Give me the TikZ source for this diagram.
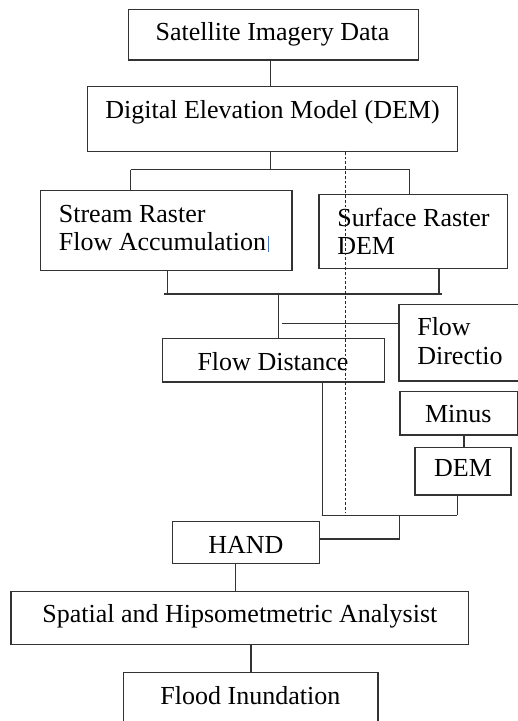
\documentclass[tikz,border=0pt]{standalone}
\usepackage{fontspec}
\setmainfont{Liberation Serif}
\begin{document}
\begin{tikzpicture}[x=0.5pt,y=-0.5pt,line width=0.6pt,
  bx/.style 2 args={draw=black!80,inner sep=0pt,minimum width={#1*0.5pt},minimum height={#2*0.5pt}},
  txt/.style={inner sep=0pt,font=\fontsize{13}{15.6}\selectfont},
  ln/.style={draw=black!80},
  dsh/.style={draw=black!85,dash pattern=on 1.4pt off 1pt}]
\useasboundingbox (0,0) rectangle (518,721);
\clip (0,0) rectangle (518,721);
% boxes
\node[bx={289.6}{50.7}] (sat) at (273.5,34.7) {};
\node[bx={370.4}{64.6}] (dem) at (272.5,119) {};
\node[bx={251.3}{79.6}] (stream) at (166.35,230.5) {};
\node[bx={188.3}{74}] (surf) at (413.15,231.3) {};
\node[bx={221.6}{43.7}] (fdist) at (273.5,360.15) {};
\node[bx={160}{76.7}] (fdir) at (479,342.65) {};
\node[bx={117.7}{43.3}] (minus) at (458.85,413.35) {};
\node[bx={96}{47.7}] (dem2) at (463,471.15) {};
\node[bx={146.8}{41.6}] (hand) at (245.9,542.5) {};
\node[bx={457.7}{52.6}] (spat) at (239.85,618) {};
\node[bx={254.3}{90}] (flood) at (250.85,717.3) {};
% texts
\node[txt,anchor=base] (tsat) at (272.5,41) {Satellite Imagery Data};
\node[txt,anchor=base] (tdem) at (272.5,118.3) {Digital Elevation Model (DEM)};
\node[txt,anchor=base west] (tst1) at (58.3,222.3) {Stream Raster};
\node[txt,anchor=base west] (tst2) at (58.3,250) {Flow Accumulation};
\node[txt,anchor=base west] (tsu1) at (336.7,226.7) {Surface Raster};
\node[txt,anchor=base west] (tsu2) at (336.7,254.3) {DEM};
\node[txt,anchor=base] (tfd) at (273,370) {Flow Distance};
\node[txt,anchor=base west] (tfr1) at (416.7,335) {Flow};
\node[txt,anchor=base west] (tfr2) at (416.7,364) {Directio};
\node[txt,anchor=base] (tmin) at (458.3,422.3) {Minus};
\node[txt,anchor=base] (tdem2) at (463,476.7) {DEM};
\node[txt,anchor=base] (thand) at (245.9,553) {HAND};
\node[txt,anchor=base] (tspat) at (239.85,622.7) {Spatial and Hipsometmetric Analysist};
\node[txt,anchor=base] (tflood) at (250.4,704) {Flood Inundation};
% text cursor
\draw[draw={rgb,255:red,68;green,114;blue,196},line width=0.6pt] (tst2.base east) ++(1.5,-14) -- ++(0,16);
% coordinates
\coordinate (xa) at (270.7,0);
\coordinate (j1) at (270.7,169.7);
\coordinate (jl) at (130.7,169.7);
\coordinate (jr) at (409.7,169.7);
\coordinate (k1) at (164,294);
\coordinate (k2) at (441.7,294);
\coordinate (ks) at (167.7,294);
\coordinate (kf) at (439,294);
\coordinate (kc) at (278.3,294);
\coordinate (fd) at (281.7,323.3);
\coordinate (m1) at (322.7,515.3);
\coordinate (m1b) at (321.7,515.3);
\coordinate (m2) at (457.3,515.3);
\coordinate (m3) at (399.3,515.3);
\coordinate (m4) at (399.3,539);
\coordinate (mx) at (464,0);
\coordinate (hx) at (235.3,0);
\coordinate (sx) at (251,0);
\coordinate (dx) at (345.5,0);
\coordinate (dend) at (345.5,513.3);
% connectors
\draw[ln] (sat.south -| xa) -- (dem.north -| xa);
\draw[ln] (dem.south -| j1) -- (j1);
\draw[ln] (jl) -- (jr);
\draw[ln] (jl) -- (stream.north -| jl);
\draw[ln] (jr) -- (surf.north -| jr);
\draw[ln] (stream.south -| ks) -- (ks);
\draw[ln] (surf.south -| kf) -- (kf);
\draw[ln] (k1) -- (k2);
\draw[ln] (kc) -- (fdist.north -| kc);
\draw[ln] (fd) -- (fdir.west |- fd);
\draw[ln] (fdist.south -| m1) -- (m1);
\draw[ln] (m1b) -- (m2);
\draw[ln] (dem2.south -| m2) -- (m2);
\draw[ln] (minus.south -| mx) -- (dem2.north -| mx);
\draw[ln] (m3) -- (m4) -- (hand.east |- m4);
\draw[ln] (hand.south -| hx) -- (spat.north -| hx);
\draw[ln] (spat.south -| sx) -- (flood.north -| sx);
\draw[dsh] (dem.south -| dx) -- (dend);
\end{tikzpicture}
\end{document}
